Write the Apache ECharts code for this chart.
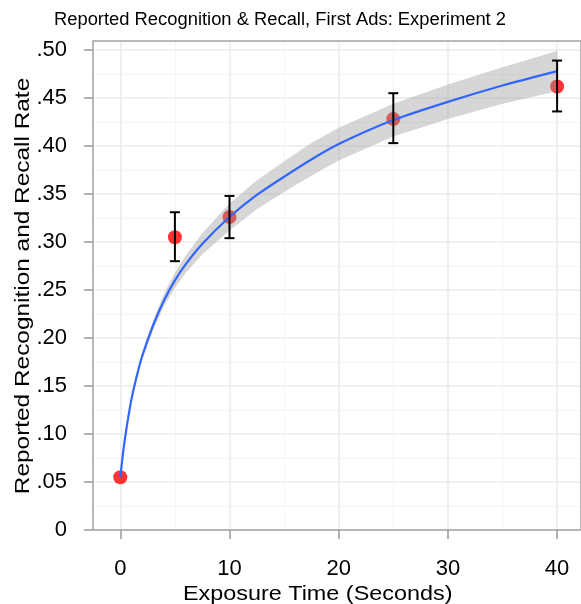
<!DOCTYPE html>
<html>
<head>
<meta charset="utf-8">
<script src="https://cdn.jsdelivr.net/npm/echarts@6/dist/echarts.min.js"></script>
<style>
html,body{margin:0;padding:0;background:#fff;}
#chart{width:581px;height:604px;}
</style>
</head>
<body>
<div id="chart"></div>
<script>
// ---- data ----
const titleText = 'Reported Recognition & Recall, First Ads: Experiment 2';
const xTitle = 'Exposure Time (Seconds)';
const yTitle = 'Reported Recognition and Recall Rate';

const pointX = [0, 5, 10, 25, 40];
const pointY = [0.055, 0.305, 0.326, 0.428, 0.462];

const errX    = [5, 10, 25, 40];
const errLow  = [0.280, 0.304, 0.403, 0.436];
const errHigh = [0.331, 0.348, 0.455, 0.489];

const fitX     = [0, 0.25, 0.5, 1, 1.5, 2, 3, 4, 5, 6, 7.5, 10, 12.5, 15, 17.5, 20, 25, 30, 35, 40];
const fitY     = [0.055, 0.080, 0.101, 0.135, 0.160, 0.181, 0.213, 0.239, 0.260, 0.277, 0.298, 0.326, 0.349, 0.368, 0.386, 0.402, 0.427, 0.446, 0.463, 0.478];
const bandLow  = [0.054, 0.079, 0.099, 0.132, 0.157, 0.177, 0.208, 0.233, 0.252, 0.268, 0.287, 0.312, 0.334, 0.352, 0.369, 0.385, 0.410, 0.428, 0.444, 0.457];
const bandHigh = [0.056, 0.081, 0.103, 0.138, 0.163, 0.185, 0.218, 0.246, 0.268, 0.286, 0.309, 0.340, 0.364, 0.384, 0.403, 0.419, 0.444, 0.464, 0.482, 0.499];

const xTicks = [0, 10, 20, 30, 40];
const yTicks = [0, 0.05, 0.10, 0.15, 0.20, 0.25, 0.30, 0.35, 0.40, 0.45, 0.50];

// ---- layout ----
const FONT = '"Liberation Sans", Arial, sans-serif';
const panel = {left: 93, top: 41, width: 488, height: 489};
const pxPerX = 10.92;
const xMin = -2.5;
const xMax = xMin + panel.width / pxPerX;
const yMax = 0.5 * 489 / 480;

const majorColor = '#EBEBEB';
const minorColor = '#F4F4F4';
const borderColor = '#A3A3A3';

const chart = echarts.init(document.getElementById('chart'), null, {renderer: 'canvas'});

const gridXLeft = panel.left + (xTicks[0] - xMin) * pxPerX;
const gridXWidth = (xTicks[xTicks.length - 1] - xTicks[0]) * pxPerX;

const option = {
  animation: false,
  backgroundColor: '#fff',
  textStyle: {fontFamily: FONT},
  grid: [
    {left: panel.left, top: panel.top, width: panel.width + 4, height: panel.height, show: true, borderColor: borderColor, borderWidth: 1.5, backgroundColor: 'transparent', z: 10},
    {left: gridXLeft, top: panel.top, width: gridXWidth, height: panel.height},
    {left: panel.left, top: 50, width: panel.width, height: 480},
    {left: panel.left, top: panel.top, width: panel.width, height: panel.height}
  ],
  xAxis: [
    {gridIndex: 3, type: 'value', min: xMin, max: xMax, show: false},
    {gridIndex: 1, type: 'value', min: xTicks[0], max: xTicks[xTicks.length-1], interval: 10,
      axisLine: {show: false},
      axisTick: {show: true, length: 9, lineStyle: {color: '#999', width: 1.5}},
      axisLabel: {fontSize: 22, color: '#000', margin: 28, fontFamily: FONT},
      splitLine: {show: true, lineStyle: {color: majorColor, width: 1.5}},
      minorTick: {show: false, splitNumber: 2},
      minorSplitLine: {show: true, lineStyle: {color: minorColor, width: 1}}
    },
    {gridIndex: 2, type: 'value', min: 0, max: 1, show: false},
    {gridIndex: 0, type: 'value', min: 0, max: 1, show: false}
  ],
  yAxis: [
    {gridIndex: 3, type: 'value', min: 0, max: yMax, show: false},
    {gridIndex: 1, type: 'value', min: 0, max: 1, show: false},
    {gridIndex: 2, type: 'value', min: yTicks[0], max: yTicks[yTicks.length-1], interval: 0.05,
      axisLine: {show: false},
      axisTick: {show: true, length: 9, lineStyle: {color: '#999', width: 1.5}},
      axisLabel: {fontSize: 22, color: '#000', margin: 26, fontFamily: FONT,
        formatter: v => Math.abs(v) < 1e-9 ? '0' : v.toFixed(2).replace(/^0/, '')},
      splitLine: {show: true, lineStyle: {color: majorColor, width: 1.5}},
      minorTick: {show: false, splitNumber: 2},
      minorSplitLine: {show: true, lineStyle: {color: minorColor, width: 1}}
    },
    {gridIndex: 0, type: 'value', min: 0, max: 1, show: false}
  ],
  graphic: [
    {type: 'text', x: 280, y: 20.5, scaleX: 1.02, style: {text: titleText, font: '18px ' + FONT, fill: '#000', align: 'center', verticalAlign: 'middle'}},
    {type: 'text', x: 317.7, y: 594, scaleX: 1.17, style: {text: xTitle, font: '20px ' + FONT, fill: '#000', align: 'center', verticalAlign: 'middle'}},
    {type: 'text', x: 23, y: 286, rotation: Math.PI / 2, scaleX: 1.22, style: {text: yTitle, font: '20px ' + FONT, fill: '#000', align: 'center', verticalAlign: 'middle'}}
  ],
  series: [
    {type: 'scatter', xAxisIndex: 0, yAxisIndex: 0, z: 2, symbolSize: 14,
      itemStyle: {color: '#FF0000'},
      data: pointX.map((x, i) => [x, pointY[i]])},
    {type: 'custom', xAxisIndex: 0, yAxisIndex: 0, z: 3, silent: true,
      data: fitX.map((x, i) => [x, bandLow[i], bandHigh[i]]),
      renderItem: function (params, api) {
        if (params.dataIndex !== 0) return null;
        const pts = [];
        for (let i = 0; i < fitX.length; i++) pts.push(api.coord([fitX[i], bandHigh[i]]));
        for (let i = fitX.length - 1; i >= 0; i--) pts.push(api.coord([fitX[i], bandLow[i]]));
        return {type: 'polygon', shape: {points: pts}, style: {fill: 'rgba(153,153,153,0.4)', stroke: null}};
      }},
    {type: 'line', xAxisIndex: 0, yAxisIndex: 0, z: 4, smooth: 0.25, showSymbol: false,
      lineStyle: {color: '#3366FF', width: 2.2},
      data: fitX.map((x, i) => [x, fitY[i]])},
    {type: 'custom', xAxisIndex: 0, yAxisIndex: 0, z: 5,
      data: errX.map((x, i) => [x, errLow[i], errHigh[i]]),
      renderItem: function (params, api) {
        const lo = api.coord([api.value(0), api.value(1)]);
        const hi = api.coord([api.value(0), api.value(2)]);
        const w = 5;
        const st = {stroke: '#000', lineWidth: 2};
        return {type: 'group', children: [
          {type: 'line', shape: {x1: lo[0], y1: lo[1], x2: hi[0], y2: hi[1]}, style: st},
          {type: 'line', shape: {x1: lo[0]-w, y1: lo[1], x2: lo[0]+w, y2: lo[1]}, style: st},
          {type: 'line', shape: {x1: hi[0]-w, y1: hi[1], x2: hi[0]+w, y2: hi[1]}, style: st}
        ]};
      }}
  ]
};
chart.setOption(option);
</script>
</body>
</html>
